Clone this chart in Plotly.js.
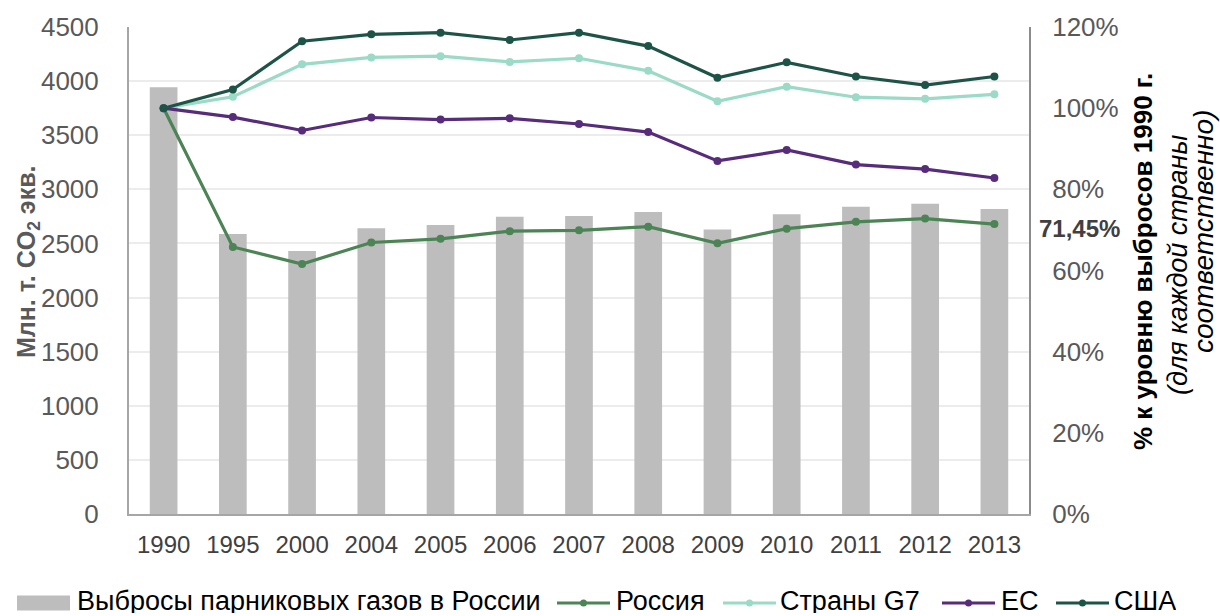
<!DOCTYPE html>
<html>
<head>
<meta charset="utf-8">
<script src="https://cdn.plot.ly/plotly-3.0.1.min.js"></script>
<style>
  html, body { margin: 0; padding: 0; background: #fff; }
  #chart { width: 1220px; height: 616px; }
</style>
</head>
<body>
<div id="chart"></div>
<script>
// Годы наблюдений
const years = ['1990', '1995', '2000', '2004', '2005', '2006', '2007', '2008', '2009', '2010', '2011', '2012', '2013'];

// Выбросы парниковых газов в России, млн т CO2-экв.
const russiaEmissions = [3943, 2587, 2430, 2640, 2670, 2747, 2754, 2790, 2630, 2769, 2840, 2867, 2818];

// Выбросы в % к уровню 1990 г.
const russiaPct = [100, 65.8, 61.6, 66.9, 67.8, 69.7, 69.9, 70.8, 66.7, 70.3, 72.0, 72.8, 71.45];
const g7Pct     = [100, 102.8, 110.8, 112.5, 112.8, 111.4, 112.3, 109.2, 101.7, 105.3, 102.7, 102.3, 103.4];
const euPct     = [100, 97.8, 94.5, 97.7, 97.2, 97.5, 96.1, 94.1, 87.0, 89.7, 86.1, 85.0, 82.8];
const usaPct    = [100, 104.6, 116.5, 118.2, 118.6, 116.8, 118.6, 115.3, 107.5, 111.3, 107.8, 105.7, 107.8];

// Названия рядов
const barName = 'Выбросы парниковых газов в России';
const lineNames = ['Россия', 'Страны G7', 'ЕС', 'США'];

const lastRussiaLabel = '71,45%';

const FONT = 'Liberation Sans, Arial, sans-serif';
const BAR_COLOR = '#bdbdbd';
const LINE_COLORS = ['#4c8456', '#9bdac6', '#572c7a', '#1e5447'];

// Plot area in pixels, used to place text and the legend outside the axes
const PLOT_L = 129, PLOT_W = 900, PLOT_T = 27, PLOT_H = 487;
const px = x => (x - PLOT_L) / PLOT_W;
const py = y => 1 - (y - PLOT_T) / PLOT_H;

function lineTrace(name, values, color) {
  return {
    type: 'scatter',
    mode: 'lines+markers',
    name: name,
    x: years,
    y: values.map(v => v / 100),
    yaxis: 'y2',
    line: { color: color, width: 3.2 },
    marker: { color: color, size: 8 },
    hoverinfo: 'x+y+name'
  };
}

const lineSeries = [russiaPct, g7Pct, euPct, usaPct];

const traces = [
  {
    type: 'bar',
    name: barName,
    x: years,
    y: russiaEmissions,
    width: 0.4,
    marker: { color: BAR_COLOR }
  }
].concat(lineSeries.map((s, i) => lineTrace(lineNames[i], s, LINE_COLORS[i])));

// Legend row under the chart: swatch left edges and label starts (px)
const LEGEND_Y = 603;
const LEGEND_TEXT_Y = 601;
const legendSwatchX = [17, 557, 723, 942, 1056];
const legendTextX = [76, 615, 779, 1000, 1113];
const SWATCH_W = 53;

const legendShapes = [];
const legendNotes = [];
[barName].concat(lineNames).forEach((name, i) => {
  const x0 = legendSwatchX[i], x1 = x0 + SWATCH_W;
  if (i === 0) {
    legendShapes.push({
      type: 'rect', xref: 'paper', yref: 'paper',
      x0: px(x0), x1: px(x1), y0: py(LEGEND_Y - 7.5), y1: py(LEGEND_Y + 7.5),
      fillcolor: BAR_COLOR, line: { width: 0 }
    });
  } else {
    const c = LINE_COLORS[i - 1];
    legendShapes.push({
      type: 'line', xref: 'paper', yref: 'paper',
      x0: px(x0), x1: px(x1), y0: py(LEGEND_Y), y1: py(LEGEND_Y),
      line: { color: c, width: 3.2 }
    });
    const cx = (x0 + x1) / 2;
    legendShapes.push({
      type: 'circle', xref: 'paper', yref: 'paper',
      x0: px(cx - 3.5), x1: px(cx + 3.5), y0: py(LEGEND_Y + 3.5), y1: py(LEGEND_Y - 3.5),
      fillcolor: c, line: { width: 0 }
    });
  }
  legendNotes.push({
    xref: 'paper', yref: 'paper',
    x: px(legendTextX[i]), y: py(LEGEND_TEXT_Y),
    xanchor: 'left', yanchor: 'middle',
    height: 24, borderpad: 0, valign: 'middle',
    text: name, showarrow: false,
    font: { size: 27, color: '#000000', family: FONT }
  });
});

const layout = {
  width: 1220,
  height: 616,
  margin: { l: PLOT_L, r: 1220 - PLOT_L - PLOT_W, t: PLOT_T, b: 616 - PLOT_T - PLOT_H, autoexpand: false },
  paper_bgcolor: '#ffffff',
  plot_bgcolor: '#ffffff',
  font: { family: FONT, size: 22, color: '#595959' },
  showlegend: false,
  xaxis: {
    type: 'category',
    range: [-0.5, years.length - 0.5],
    showline: true,
    linecolor: '#a6a6a6',
    linewidth: 2,
    ticks: '',
    tickfont: { size: 24, color: '#404040' },
    ticklabelstandoff: 8,
    showgrid: false,
    fixedrange: true
  },
  yaxis: {
    range: [0, 4500],
    dtick: 500,
    showline: true,
    linecolor: '#a6a6a6',
    linewidth: 2,
    ticks: '',
    tickfont: { size: 26, color: '#595959' },
    ticklabelstandoff: 23,
    showgrid: true,
    gridcolor: '#ececec',
    gridwidth: 2,
    zeroline: false,
    automargin: false,
    fixedrange: true
  },
  yaxis2: {
    overlaying: 'y',
    side: 'right',
    range: [0, 1.2],
    dtick: 0.2,
    tickformat: '.0%',
    showline: true,
    linecolor: '#8c8c8c',
    linewidth: 2,
    ticks: '',
    tickfont: { size: 26, color: '#595959' },
    ticklabelstandoff: 16,
    showgrid: false,
    zeroline: false,
    automargin: false,
    fixedrange: true
  },
  shapes: legendShapes,
  annotations: [
    {
      xref: 'paper', yref: 'paper',
      x: px(28), y: py(262),
      xanchor: 'center', yanchor: 'middle',
      textangle: -90,
      text: '<b>Млн. т. CO<sub>2</sub> экв.</b>',
      showarrow: false,
      font: { size: 25, color: '#595959', family: FONT }
    },
    {
      xref: 'paper', yref: 'y2',
      x: 1, y: russiaPct[russiaPct.length - 1] / 100,
      xanchor: 'left', yanchor: 'middle',
      xshift: 8, yshift: -4,
      text: '<b>' + lastRussiaLabel + '</b>',
      showarrow: false,
      font: { size: 24, color: '#404040', family: FONT }
    },
    {
      xref: 'paper', yref: 'paper',
      x: px(1143), y: py(262),
      xanchor: 'center', yanchor: 'middle',
      textangle: -90,
      text: '<b>% к уровню выбросов 1990 г.</b>',
      showarrow: false,
      font: { size: 26, color: '#000000', family: FONT }
    },
    {
      xref: 'paper', yref: 'paper',
      x: px(1178), y: py(265),
      xanchor: 'center', yanchor: 'middle',
      textangle: -90,
      text: '<i>(для каждой страны</i>',
      showarrow: false,
      font: { size: 27, color: '#000000', family: FONT }
    },
    {
      xref: 'paper', yref: 'paper',
      x: px(1204), y: py(232),
      xanchor: 'center', yanchor: 'middle',
      textangle: -90,
      text: '<i>соответственно)</i>',
      showarrow: false,
      font: { size: 28, color: '#000000', family: FONT }
    }
  ].concat(legendNotes)
};

Plotly.newPlot('chart', traces, layout, { displayModeBar: false, staticPlot: true });
</script>
</body>
</html>
